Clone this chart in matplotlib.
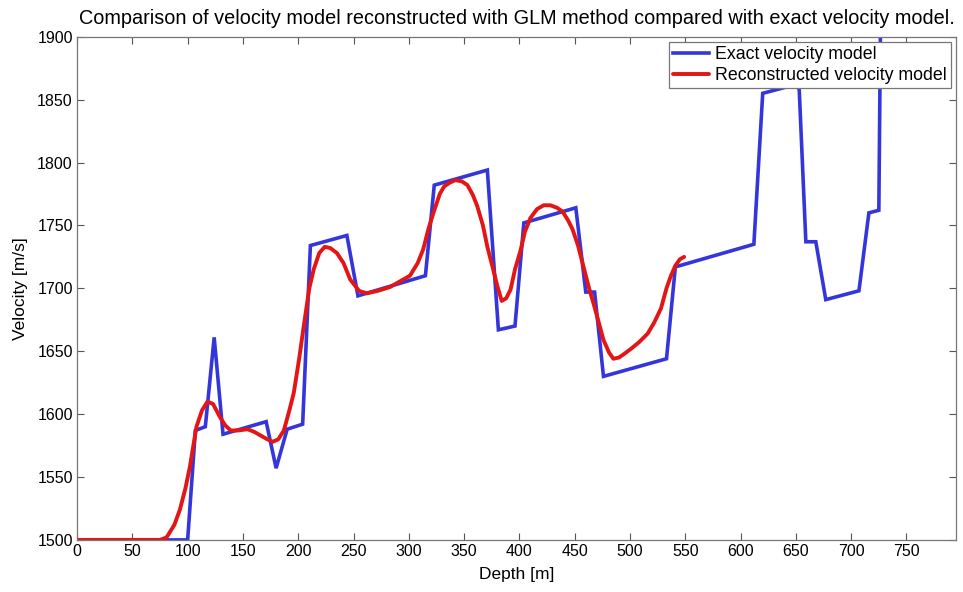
import matplotlib
matplotlib.use("Agg")
import matplotlib.pyplot as plt
import numpy as np

plt.rcParams['font.family'] = ['Liberation Sans', 'DejaVu Sans']

# Exact velocity model (piecewise)
exact_depth = [0, 100, 107, 116, 124, 132, 171, 180, 190, 204, 211, 244, 254, 315, 323,
               371, 381, 396, 404, 451, 460, 468, 476, 533, 541, 612, 620, 650, 653,
               659, 668, 677, 707, 716, 725, 727, 795]
exact_vel = [1500, 1500, 1587, 1590, 1661, 1584, 1594, 1557, 1588, 1592, 1734, 1742, 1694,
             1710, 1782, 1794, 1667, 1670, 1752, 1764, 1697, 1697, 1630, 1644, 1717, 1735,
             1855, 1862, 1858, 1737, 1737, 1691, 1698, 1760, 1762, 1960, 1975]

# Reconstructed velocity model (GLM)
rec_depth = [0, 75, 81, 88, 93, 98, 102, 108, 113, 118, 123, 129, 134, 139, 146, 154, 160,
             166, 172, 177, 182, 187, 192, 196, 201, 205, 210, 214, 219, 224, 229, 235,
             241, 247, 255, 262, 272, 283, 293, 301, 308, 313, 318, 323, 328, 332, 337,
             342, 348, 353, 358, 362, 367, 371, 376, 380, 384, 388, 392, 396, 401, 405,
             410, 416, 422, 428, 434, 439, 444, 448, 453, 458, 463, 467, 472, 476, 481,
             485, 490, 495, 501, 508, 516, 522, 528, 533, 537, 541, 545, 549]
rec_vel = [1500, 1500, 1502, 1512, 1524, 1541, 1558, 1590, 1603, 1610, 1608, 1598, 1591,
           1587, 1587, 1588, 1586, 1583, 1580, 1578, 1580, 1587, 1603, 1617, 1645, 1670,
           1700, 1715, 1728, 1733, 1732, 1728, 1720, 1707, 1698, 1696, 1698, 1701, 1706,
           1710, 1720, 1731, 1748, 1762, 1775, 1781, 1784, 1786, 1785, 1782, 1774, 1765,
           1750, 1733, 1716, 1702, 1690, 1692, 1699, 1715, 1730, 1745, 1756, 1763, 1766,
           1766, 1764, 1761, 1754, 1747, 1734, 1717, 1700, 1688, 1672, 1659, 1649, 1644,
           1645, 1648, 1652, 1657, 1664, 1673, 1684, 1700, 1710, 1718, 1723, 1725]

fig = plt.figure(figsize=(9.63, 5.92), dpi=100)
ax = fig.add_axes([0.080, 0.088, 0.913, 0.850])

ax.plot(exact_depth, exact_vel, color='#3535dc', lw=2.6, label='Exact velocity model',
        solid_joinstyle='miter')
ax.plot(rec_depth, rec_vel, color='#e31515', lw=2.8, label='Reconstructed velocity model',
        solid_joinstyle='round', solid_capstyle='round')

ax.set_xlim(0, 795)
ax.set_ylim(1500, 1900)
ax.set_xticks(np.arange(0, 751, 50))
ax.set_yticks(np.arange(1500, 1901, 50))
ax.tick_params(direction='in', top=True, right=True, labelsize=11.5, color='#555555',
               length=5, width=0.8, pad=3)
for s in ax.spines.values():
    s.set_color('#777777')
    s.set_linewidth(0.9)

ax.set_xlabel('Depth [m]', fontsize=12.5, labelpad=6)
ax.set_ylabel('Velocity [m/s]', fontsize=12.5, labelpad=7)
ax.set_title('Comparison of velocity model reconstructed with GLM method compared with exact velocity model.',
             fontsize=14.3, pad=9)

leg = ax.legend(loc='upper right', fontsize=12.8, fancybox=False, framealpha=1,
                edgecolor='#777777', handlelength=2.0, borderpad=0.25, labelspacing=0.2,
                handletextpad=0.35, borderaxespad=0.3)
leg.get_frame().set_linewidth(0.9)

fig.savefig('out.png', dpi=100)
